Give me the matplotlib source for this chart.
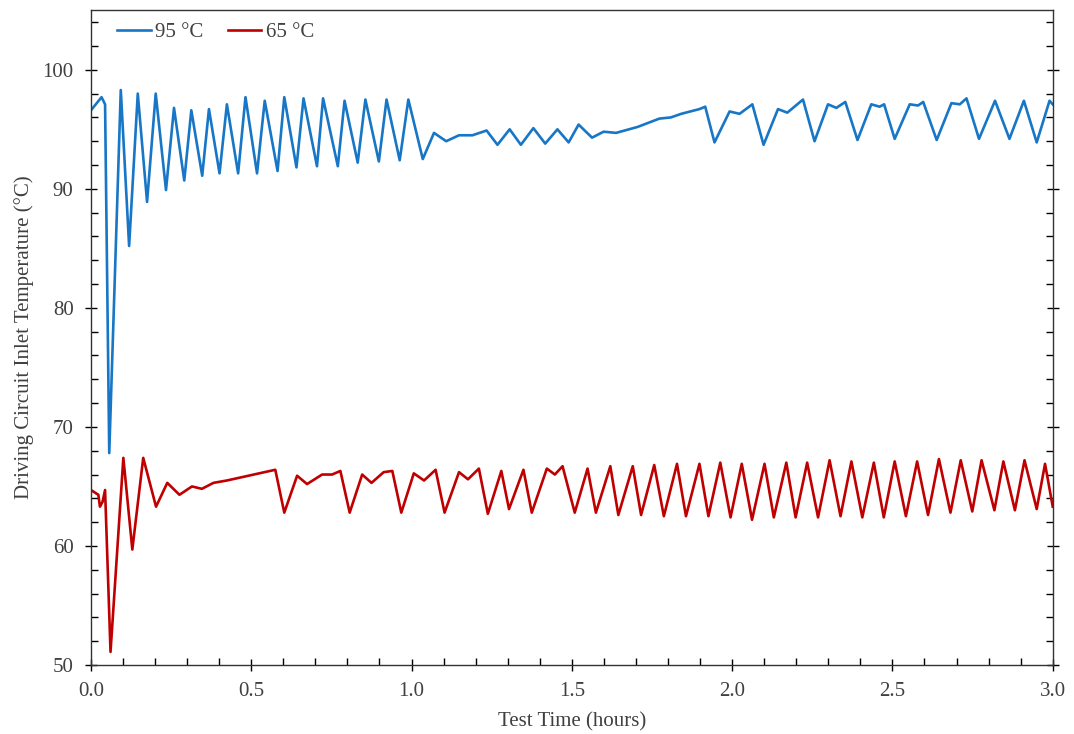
import matplotlib
matplotlib.use("Agg")
import matplotlib.pyplot as plt
from matplotlib.ticker import MultipleLocator

# ── data (hours, deg C) ────────────────────────────────────────
t_95 = [0.000, 0.033, 0.044, 0.057, 0.093, 0.119, 0.146, 0.175, 0.202, 0.234,
        0.259, 0.291, 0.313, 0.347, 0.368, 0.401, 0.424, 0.459, 0.482, 0.518,
        0.542, 0.582, 0.603, 0.641, 0.663, 0.705, 0.724, 0.770, 0.791, 0.832,
        0.856, 0.898, 0.922, 0.963, 0.990, 1.035, 1.070, 1.108, 1.148, 1.190,
        1.234, 1.268, 1.306, 1.341, 1.380, 1.417, 1.455, 1.490, 1.521, 1.563,
        1.599, 1.638, 1.705, 1.773, 1.809, 1.841, 1.898, 1.916, 1.945, 1.992,
        2.023, 2.063, 2.098, 2.143, 2.172, 2.221, 2.257, 2.299, 2.325, 2.353,
        2.391, 2.434, 2.460, 2.474, 2.507, 2.554, 2.580, 2.596, 2.638, 2.684,
        2.710, 2.731, 2.770, 2.820, 2.865, 2.910, 2.950, 2.990, 3.000]
y_95 = [96.6, 97.7, 97.1, 67.8, 98.3, 85.2, 98.0, 88.9, 98.0, 89.9,
        96.8, 90.7, 96.6, 91.1, 96.7, 91.3, 97.1, 91.3, 97.7, 91.3,
        97.4, 91.5, 97.7, 91.8, 97.6, 91.9, 97.6, 91.9, 97.4, 92.2,
        97.5, 92.3, 97.5, 92.4, 97.5, 92.5, 94.7, 94.0, 94.5, 94.5,
        94.9, 93.7, 95.0, 93.7, 95.1, 93.8, 95.0, 93.9, 95.4, 94.3,
        94.8, 94.7, 95.2, 95.9, 96.0, 96.3, 96.7, 96.9, 93.9, 96.5,
        96.3, 97.1, 93.7, 96.7, 96.4, 97.5, 94.0, 97.1, 96.8, 97.3,
        94.1, 97.1, 96.9, 97.1, 94.2, 97.1, 97.0, 97.3, 94.1, 97.2,
        97.1, 97.6, 94.2, 97.4, 94.2, 97.4, 93.9, 97.4, 97.1]

t_65 = [0.000, 0.023, 0.028, 0.036, 0.044, 0.061, 0.101, 0.129, 0.163, 0.203,
        0.238, 0.276, 0.315, 0.346, 0.382, 0.424, 0.575, 0.603, 0.643, 0.674,
        0.721, 0.752, 0.778, 0.807, 0.846, 0.875, 0.913, 0.940, 0.968, 1.007,
        1.039, 1.075, 1.103, 1.148, 1.176, 1.210, 1.238, 1.280, 1.304, 1.349,
        1.375, 1.422, 1.447, 1.471, 1.509, 1.549, 1.575, 1.620, 1.645, 1.690,
        1.716, 1.757, 1.787, 1.828, 1.856, 1.898, 1.926, 1.963, 1.995, 2.030,
        2.062, 2.101, 2.130, 2.169, 2.198, 2.234, 2.268, 2.304, 2.338, 2.372,
        2.406, 2.442, 2.473, 2.507, 2.542, 2.577, 2.611, 2.645, 2.681, 2.713,
        2.749, 2.778, 2.818, 2.846, 2.882, 2.912, 2.950, 2.976, 3.000]
y_65 = [64.7, 64.3, 63.3, 63.7, 64.7, 51.1, 67.4, 59.7, 67.4, 63.3,
        65.3, 64.3, 65.0, 64.8, 65.3, 65.5, 66.4, 62.8, 65.9, 65.2,
        66.0, 66.0, 66.3, 62.8, 66.0, 65.3, 66.2, 66.3, 62.8, 66.1,
        65.5, 66.4, 62.8, 66.2, 65.6, 66.5, 62.7, 66.3, 63.1, 66.4,
        62.8, 66.5, 66.0, 66.7, 62.8, 66.5, 62.8, 66.7, 62.6, 66.7,
        62.6, 66.8, 62.5, 66.9, 62.5, 66.9, 62.5, 67.0, 62.4, 66.9,
        62.2, 66.9, 62.4, 67.0, 62.4, 67.0, 62.4, 67.2, 62.5, 67.1,
        62.4, 67.0, 62.4, 67.1, 62.5, 67.1, 62.6, 67.3, 62.8, 67.2,
        62.9, 67.2, 63.0, 67.1, 63.0, 67.2, 63.1, 66.9, 63.3]

BLUE = "#1776c6"
RED = "#c00000"
TEXT = "#404040"

plt.rcParams["font.family"] = ["Liberation Serif", "DejaVu Serif"]

fig = plt.figure(figsize=(10.74, 7.34), dpi=100)
ax = fig.add_axes([0.0847, 0.094, 0.8955, 0.892])

ax.plot(t_95, y_95, color=BLUE, lw=1.9, label="95 °C", solid_joinstyle="round")
ax.plot(t_65, y_65, color=RED, lw=1.9, label="65 °C", solid_joinstyle="round")

ax.set_xlim(0, 3.0)
ax.set_ylim(50, 105)
ax.xaxis.set_major_locator(MultipleLocator(0.5))
ax.xaxis.set_minor_locator(MultipleLocator(0.1))
ax.yaxis.set_major_locator(MultipleLocator(10))
ax.yaxis.set_minor_locator(MultipleLocator(2))
ax.xaxis.set_major_formatter(matplotlib.ticker.FormatStrFormatter("%.1f"))
ax.tick_params(which="major", direction="inout", length=9, width=1.0,
               right=True, labelsize=15, labelcolor=TEXT, pad=8)
ax.tick_params(which="minor", direction="in", length=5, width=1.0, right=True)
for s in ax.spines.values():
    s.set_color("#333333")
    s.set_linewidth(1.0)

ax.set_xlabel("Test Time (hours)", fontsize=15, color=TEXT, labelpad=8)
ax.set_ylabel("Driving Circuit Inlet Temperature (°C)", fontsize=15, color=TEXT, labelpad=6)

ax.legend(loc="upper left", bbox_to_anchor=(0.008, 1.01), ncol=2, frameon=False,
          fontsize=15, handlelength=1.6, handletextpad=0.2, columnspacing=1.2,
          labelcolor=TEXT)

fig.savefig("out.png", dpi=100)
